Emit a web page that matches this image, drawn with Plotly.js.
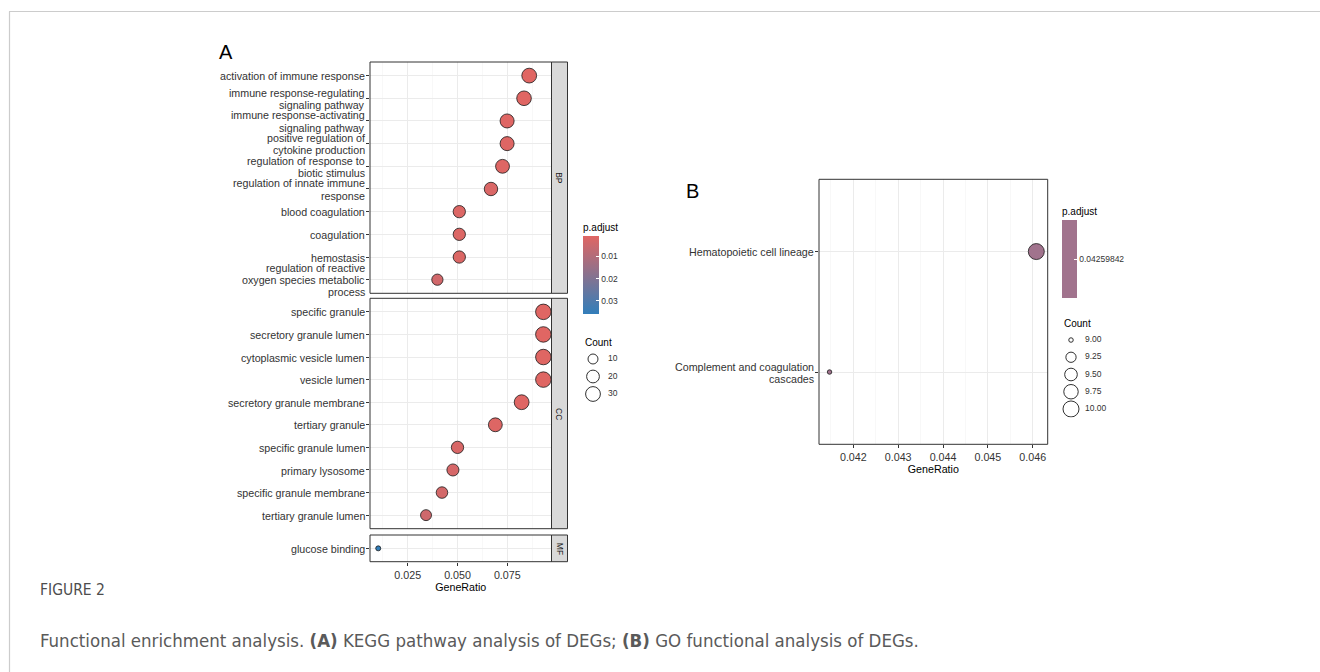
<!DOCTYPE html>
<html><head><meta charset="utf-8">
<script src="https://cdn.plot.ly/plotly-3.0.1.min.js"></script>
<style>html,body{margin:0;padding:0;background:#fff}#chart{width:1320px;height:672px}</style>
</head><body><div id="chart"></div>
<script>
// ---------- Data (panel A: GO) ----------
const bpTerms = ["activation of immune response","immune response-regulating<br>signaling pathway","immune response-activating<br>signaling pathway","positive regulation of<br>cytokine production","regulation of response to<br>biotic stimulus","regulation of innate immune<br>response","blood coagulation","coagulation","hemostasis","regulation of reactive<br>oxygen species metabolic<br>process"];
const bpRatio = [0.0860,0.0834,0.0749,0.0749,0.0726,0.0668,0.0509,0.0509,0.0509,0.0399];
const bpCount = [30,29,26,26,25,23,18,18,18,14];
const bpPadj  = [0.0009,0.0010,0.0012,0.0014,0.0013,0.0022,0.0018,0.0018,0.0019,0.0040];

const ccTerms = ["specific granule","secretory granule lumen","cytoplasmic vesicle lumen","vesicle lumen","secretory granule membrane","tertiary granule","specific granule lumen","primary lysosome","specific granule membrane","tertiary granule lumen"];
const ccRatio = [0.0931,0.0931,0.0931,0.0931,0.0822,0.0690,0.0500,0.0477,0.0422,0.0342];
const ccCount = [34,34,34,34,30,25,18,17,15,13];
const ccPadj  = [0.0010,0.0010,0.0011,0.0011,0.0012,0.0015,0.0025,0.0030,0.0035,0.0045];

const mfTerms = ["glucose binding"];
const mfRatio = [0.0102];
const mfCount = [3];
const mfPadj  = [0.0359];

const facetLabels = ["BP","CC","MF"];
const sizeBreaksA = [10,20,30];
const pTicksA = [0.01,0.02,0.03];

// ---------- Data (panel B: KEGG) ----------
const keggTerms = ["Hematopoietic cell lineage","Complement and coagulation<br>cascades"];
const keggRatio = [0.04608,0.04147];
const keggCount = [10,9];
const keggPadj  = [0.04259842,0.04259842];
const sizeBreaksB = [9.00,9.25,9.50,9.75,10.00];

// ---------- helpers ----------
const W = 1320, H = 672;
const px = x => x / W;
const py = y => 1 - y / H;
const red = '#e06663', blue = '#327eba';
const font = 'Liberation Sans, Arial, sans-serif';
const capFont = 'DejaVu Sans Condensed, Liberation Sans, sans-serif';

const allA = bpCount.concat(ccCount, mfCount);
const cMinA = Math.min(...allA), cMaxA = Math.max(...allA);
const sizeA = c => 5 + 10.5 * Math.sqrt(Math.max(0,(c - cMinA)) / (cMaxA - cMinA));
const cMinB = Math.min(...keggCount), cMaxB = Math.max(...keggCount);
const sizeB = c => 4.5 + 11.5 * Math.sqrt(Math.max(0,(c - cMinB)) / (cMaxB - cMinB));

const allP = bpPadj.concat(ccPadj, mfPadj);
const pMin = Math.min(...allP), pMax = Math.max(...allP);

const mk = (ratio, terms, count, padj, ya) => ({
  type:'scatter', mode:'markers', x: ratio, y: terms, xaxis:'x', yaxis: ya,
  marker:{size: count.map(sizeA), color: padj.map(v => -v), coloraxis:'coloraxis',
          line:{color:'#1a1a1a', width:0.8}, opacity:1},
  hoverinfo:'x+y', showlegend:false
});

const legendText = {size:8.5, color:'#333', family:font};
const traces = [
  mk(bpRatio, bpTerms, bpCount, bpPadj, 'y'),
  mk(ccRatio, ccTerms, ccCount, ccPadj, 'y2'),
  mk(mfRatio, mfTerms, mfCount, mfPadj, 'y3'),
  // size legend A
  {type:'scatter', mode:'markers', x: sizeBreaksA.map(()=>0), y: sizeBreaksA.map((_,i)=>i),
   xaxis:'x4', yaxis:'y4', marker:{size: sizeBreaksA.map(sizeA), color:'#fff', opacity:1, line:{color:'#1a1a1a', width:0.9}},
   hoverinfo:'skip', showlegend:false},
  {type:'scatter', mode:'text', x: sizeBreaksA.map(()=>1.5), y: sizeBreaksA.map((_,i)=>i),
   xaxis:'x4', yaxis:'y4', text: sizeBreaksA.map(String), textposition:'middle right',
   textfont:legendText, hoverinfo:'skip', showlegend:false},
  // panel B
  {type:'scatter', mode:'markers', x: keggRatio, y: keggTerms, xaxis:'x5', yaxis:'y5',
   marker:{size: keggCount.map(sizeB), color: keggPadj, coloraxis:'coloraxis2', opacity:1, line:{color:'#1a1a1a', width:0.8}},
   hoverinfo:'x+y', showlegend:false},
  {type:'scatter', mode:'markers', x: sizeBreaksB.map(()=>0), y: sizeBreaksB.map((_,i)=>i),
   xaxis:'x6', yaxis:'y6', marker:{size: sizeBreaksB.map(sizeB), color:'#fff', opacity:1, line:{color:'#1a1a1a', width:0.9}},
   hoverinfo:'skip', showlegend:false},
  {type:'scatter', mode:'text', x: sizeBreaksB.map(()=>1.4), y: sizeBreaksB.map((_,i)=>i),
   xaxis:'x6', yaxis:'y6', text: sizeBreaksB.map(v=>v.toFixed(2)), textposition:'middle right',
   textfont:legendText, hoverinfo:'skip', showlegend:false}
];

const tickFont = {size:10.7, color:'#333', family:font};

const yCat = (terms, top, bottom, n, xa) => ({
  type:'category', categoryorder:'array', categoryarray: terms,
  domain:[py(bottom), py(top)], range:[n - 0.4, -0.6], anchor:xa,
  ticks:'outside', ticklen:3, tickcolor:'#333', tickwidth:1, showticklabels:false,
  showgrid:true, gridcolor:'#EBEBEB', gridwidth:1, zeroline:false, showline:false,
  automargin:false, fixedrange:true
});

const xCont = (domain, range, anchor, tick0, dtick, minor0) => ({
  domain, range, anchor, tickmode:'linear', tick0, dtick, tickformat:'.3f',
  ticks:'outside', ticklen:3, tickcolor:'#333', tickfont:tickFont,
  showgrid:true, gridcolor:'#EBEBEB', gridwidth:1,
  minor:{tickmode:'linear', tick0:minor0, dtick, showgrid:true, gridcolor:'#F3F3F3', gridwidth:0.6, ticks:''},
  zeroline:false, showline:false, automargin:false, fixedrange:true,
  title:{text:'GeneRatio', font:{size:10.7, color:'#000', family:font}, standoff:2}
});

const layout = {
  width:W, height:H, margin:{l:0,r:0,t:0,b:0}, paper_bgcolor:'#fff', plot_bgcolor:'#fff',
  font:{family:font, color:'#000'},
  showlegend:false,
  xaxis: xCont([px(370), px(551.5)], [0.00607,0.09719], 'y3', 0.025, 0.025, 0.0125),
  yaxis: yCat(bpTerms, 62, 293.3, bpTerms.length, 'x'),
  yaxis2: yCat(ccTerms, 298.3, 528.7, ccTerms.length, 'x'),
  yaxis3: yCat(mfTerms, 535, 561.7, mfTerms.length, 'x'),
  xaxis4:{domain:[px(583), px(640)], range:[-1,4.7], visible:false, fixedrange:true, anchor:'y4'},
  yaxis4:{domain:[py(402.75), py(350.25)], range:[2.5,-0.5], visible:false, fixedrange:true, anchor:'x4'},
  xaxis5: xCont([px(819), px(1047.7)], [0.041235,0.046334], 'y5', 0.042, 0.001, 0.0415),
  yaxis5: yCat(keggTerms, 179.3, 444.3, keggTerms.length, 'x5'),
  xaxis6:{domain:[px(1062), px(1120)], range:[-0.9,4.9], visible:false, fixedrange:true, anchor:'y6'},
  yaxis6:{domain:[py(417.6), py(331.4)], range:[4.5,-0.5], visible:false, fixedrange:true, anchor:'x6'},
  coloraxis:{cmin:-pMax, cmax:-pMin, colorscale:[[0,blue],[1,red]],
    colorbar:{x:px(583), xanchor:'left', y:py(220), yanchor:'top', len:94, lenmode:'pixels',
      thickness:16, thicknessmode:'pixels', outlinewidth:0, xpad:0, ypad:0,
      tickmode:'array', tickvals: pTicksA.map(v=>-v), ticktext: pTicksA.map(v=>v.toFixed(2)),
      ticks:'inside', ticklen:3, tickcolor:'#fff', tickwidth:1,
      tickfont:legendText,
      title:{text:'p.adjust', side:'top', font:{size:10, color:'#000', family:font}}}},
  coloraxis2:{cmin:keggPadj[0]-0.0001, cmax:keggPadj[0]+0.0001, colorscale:[[0,'#a1738d'],[1,'#a1738d']],
    colorbar:{x:px(1062), xanchor:'left', y:py(204), yanchor:'top', len:94, lenmode:'pixels',
      thickness:15, thicknessmode:'pixels', outlinewidth:0, xpad:0, ypad:0,
      tickmode:'array', tickvals:[keggPadj[0]], ticktext:[String(keggPadj[0])],
      ticks:'inside', ticklen:3, tickcolor:'#fff', tickwidth:1,
      tickfont:legendText,
      title:{text:'p.adjust', side:'top', font:{size:10, color:'#000', family:font}}}},
  shapes:[],
  annotations:[]
};

// figure frame
layout.shapes.push({type:'line', xref:'paper', yref:'paper', x0:px(9), x1:1, y0:py(11.5), y1:py(11.5), line:{color:'#CCCCCC', width:1.2}});
layout.shapes.push({type:'line', xref:'paper', yref:'paper', x0:px(9.5), x1:px(9.5), y0:py(11.5), y1:0, line:{color:'#CCCCCC', width:1.2}});

// panel borders + strips
['y','y2','y3'].forEach((ya, i) => {
  layout.shapes.push({type:'rect', xref:'paper', yref: ya+' domain', x0:px(551.5), x1:px(567.5), y0:0, y1:1,
    fillcolor:'#D9D9D9', line:{color:'#333', width:1}, layer:'above'});
  layout.shapes.push({type:'rect', xref:'x domain', yref: ya+' domain', x0:0, x1:1, y0:0, y1:1,
    line:{color:'#333', width:1}, layer:'above'});
  layout.annotations.push({xref:'paper', yref: ya+' domain', x:px(559.5), y:0.5, text:facetLabels[i],
    textangle:90, showarrow:false, font:{size:8.5, color:'#1A1A1A', family:font}});
});
layout.shapes.push({type:'rect', xref:'x5 domain', yref:'y5 domain', x0:0, x1:1, y0:0, y1:1, line:{color:'#333', width:1}, layer:'above'});

// category labels, drawn line by line for tight ggplot-like line spacing
const LINE = 12.2;
const catLabels = (terms, ya, xRight) => terms.forEach(t => {
  const lines = t.split('<br>');
  const n = lines.length;
  lines.forEach((ln, k) => layout.annotations.push({
    xref:'paper', yref: ya, x: px(xRight), y: t, yshift: ((n - 1) / 2 - k) * LINE - 0.6,
    text: ln, showarrow:false, xanchor:'right', yanchor:'middle', borderpad:0,
    font: tickFont
  }));
});
catLabels(bpTerms, 'y', 365.5);
catLabels(ccTerms, 'y2', 365.5);
catLabels(mfTerms, 'y3', 365.5);
catLabels(keggTerms, 'y5', 815);

// text
const ann = (x, y, text, size, opts={}) => layout.annotations.push(Object.assign({
  xref:'paper', yref:'paper', x:px(x), y:py(y), text, showarrow:false, xanchor:'left', yanchor:'middle',
  font:{size, color:'#000', family:font}}, opts));
ann(217, 52, 'A', 20);
ann(684, 191, 'B', 20);
ann(583, 342, 'Count', 10);
ann(1062, 323, 'Count', 10);
ann(38, 590, 'FIGURE 2', 15.5, {font:{size:15.5, color:'#4D4D4D', family:capFont}});
ann(38, 640, 'Functional enrichment analysis. <b>(A)</b> KEGG pathway analysis of DEGs; <b>(B)</b> GO functional analysis of DEGs.', 18.5,
  {font:{size:18.5, color:'#5A5A5A', family:capFont}});

Plotly.newPlot('chart', traces, layout, {displayModeBar:false, staticPlot:true});
</script></body></html>
